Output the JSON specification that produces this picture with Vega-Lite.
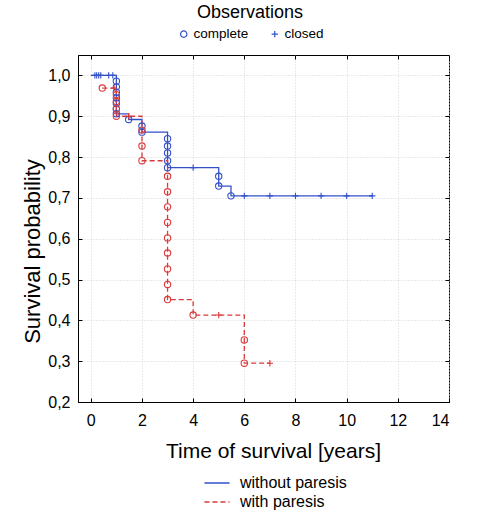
{
  "$schema": "https://vega.github.io/schema/vega-lite/v6.json",
  "autosize": "none",
  "width": 371,
  "height": 347,
  "padding": {"left": 78, "top": 55, "right": 48, "bottom": 110},
  "background": "white",
  "config": {
    "font": "Liberation Sans",
    "view": {"stroke": "black", "strokeWidth": 1},
    "axis": {
      "labelFont": "Liberation Sans", "titleFont": "Liberation Sans",
      "labelFontSize": 16, "titleFontSize": 21, "titleFontWeight": "normal",
      "labelColor": "black", "titleColor": "black",
      "domainColor": "black", "tickColor": "black",
      "gridColor": "#d4d4d4", "gridDash": [1, 2], "gridWidth": 1
    },
    "legend": {"labelFont": "Liberation Sans", "titleFont": "Liberation Sans", "labelColor": "black", "titleColor": "black"}
  },
  "datasets": {
    "curve": [
      {"group": "without paresis", "t": 0, "s": 1.0},
      {"group": "without paresis", "t": 1, "s": 0.906},
      {"group": "without paresis", "t": 1.48, "s": 0.892},
      {"group": "without paresis", "t": 2, "s": 0.861},
      {"group": "without paresis", "t": 3, "s": 0.774},
      {"group": "without paresis", "t": 5, "s": 0.729},
      {"group": "without paresis", "t": 5.48, "s": 0.705},
      {"group": "without paresis", "t": 11, "s": 0.705},
      {"group": "with paresis", "t": 0.45, "s": 0.969},
      {"group": "with paresis", "t": 1, "s": 0.90},
      {"group": "with paresis", "t": 2, "s": 0.791},
      {"group": "with paresis", "t": 3, "s": 0.451},
      {"group": "with paresis", "t": 4, "s": 0.413},
      {"group": "with paresis", "t": 6, "s": 0.295},
      {"group": "with paresis", "t": 7, "s": 0.295}
    ],
    "obs": [
      {"group": "without paresis", "kind": "closed", "t": 0.16, "s": 1.0},
      {"group": "without paresis", "kind": "closed", "t": 0.23, "s": 1.0},
      {"group": "without paresis", "kind": "closed", "t": 0.31, "s": 1.0},
      {"group": "without paresis", "kind": "closed", "t": 0.39, "s": 1.0},
      {"group": "without paresis", "kind": "closed", "t": 0.70, "s": 1.0},
      {"group": "without paresis", "kind": "closed", "t": 0.86, "s": 1.0},
      {"group": "without paresis", "kind": "complete", "t": 1, "s": 0.986},
      {"group": "without paresis", "kind": "complete", "t": 1, "s": 0.972},
      {"group": "without paresis", "kind": "complete", "t": 1, "s": 0.959},
      {"group": "without paresis", "kind": "complete", "t": 1, "s": 0.945},
      {"group": "without paresis", "kind": "complete", "t": 1, "s": 0.932},
      {"group": "without paresis", "kind": "complete", "t": 1, "s": 0.918},
      {"group": "without paresis", "kind": "complete", "t": 1, "s": 0.906},
      {"group": "without paresis", "kind": "complete", "t": 1.48, "s": 0.892},
      {"group": "without paresis", "kind": "complete", "t": 2, "s": 0.876},
      {"group": "without paresis", "kind": "complete", "t": 2, "s": 0.861},
      {"group": "without paresis", "kind": "complete", "t": 3, "s": 0.845},
      {"group": "without paresis", "kind": "complete", "t": 3, "s": 0.827},
      {"group": "without paresis", "kind": "complete", "t": 3, "s": 0.81},
      {"group": "without paresis", "kind": "complete", "t": 3, "s": 0.791},
      {"group": "without paresis", "kind": "complete", "t": 3, "s": 0.774},
      {"group": "without paresis", "kind": "closed", "t": 4, "s": 0.774},
      {"group": "without paresis", "kind": "complete", "t": 5, "s": 0.753},
      {"group": "without paresis", "kind": "complete", "t": 5, "s": 0.729},
      {"group": "without paresis", "kind": "complete", "t": 5.48, "s": 0.705},
      {"group": "without paresis", "kind": "closed", "t": 6, "s": 0.705},
      {"group": "without paresis", "kind": "closed", "t": 7, "s": 0.705},
      {"group": "without paresis", "kind": "closed", "t": 8, "s": 0.705},
      {"group": "without paresis", "kind": "closed", "t": 9, "s": 0.705},
      {"group": "without paresis", "kind": "closed", "t": 10, "s": 0.705},
      {"group": "without paresis", "kind": "closed", "t": 11, "s": 0.705},
      {"group": "with paresis", "kind": "complete", "t": 0.45, "s": 0.969},
      {"group": "with paresis", "kind": "closed", "t": 0.91, "s": 0.969},
      {"group": "with paresis", "kind": "complete", "t": 1, "s": 0.953},
      {"group": "with paresis", "kind": "complete", "t": 1, "s": 0.936},
      {"group": "with paresis", "kind": "complete", "t": 1, "s": 0.918},
      {"group": "with paresis", "kind": "complete", "t": 1, "s": 0.90},
      {"group": "with paresis", "kind": "closed", "t": 1.48, "s": 0.90},
      {"group": "with paresis", "kind": "complete", "t": 2, "s": 0.866},
      {"group": "with paresis", "kind": "complete", "t": 2, "s": 0.827},
      {"group": "with paresis", "kind": "complete", "t": 2, "s": 0.791},
      {"group": "with paresis", "kind": "complete", "t": 3, "s": 0.753},
      {"group": "with paresis", "kind": "complete", "t": 3, "s": 0.715},
      {"group": "with paresis", "kind": "complete", "t": 3, "s": 0.678},
      {"group": "with paresis", "kind": "complete", "t": 3, "s": 0.640},
      {"group": "with paresis", "kind": "complete", "t": 3, "s": 0.602},
      {"group": "with paresis", "kind": "complete", "t": 3, "s": 0.565},
      {"group": "with paresis", "kind": "complete", "t": 3, "s": 0.526},
      {"group": "with paresis", "kind": "complete", "t": 3, "s": 0.488},
      {"group": "with paresis", "kind": "complete", "t": 3, "s": 0.451},
      {"group": "with paresis", "kind": "complete", "t": 4, "s": 0.413},
      {"group": "with paresis", "kind": "closed", "t": 5, "s": 0.413},
      {"group": "with paresis", "kind": "complete", "t": 6, "s": 0.352},
      {"group": "with paresis", "kind": "complete", "t": 6, "s": 0.295},
      {"group": "with paresis", "kind": "closed", "t": 7, "s": 0.295}
    ]
  },
  "resolve": {"axis": {"x": "independent", "y": "independent"}},
  "layer": [
    {
      "data": {"name": "curve"},
      "mark": {"type": "line", "interpolate": "step-after", "strokeWidth": 1.3},
      "encoding": {
        "x": {"field": "t", "type": "quantitative",
          "scale": {"domain": [-0.5, 14], "nice": false, "zero": false},
          "axis": {"values": [0, 2, 4, 6, 8, 10, 12, 14], "title": "Time of survival [years]",
            "tickSize": -4, "labelPadding": 14, "titlePadding": 12, "titleX": 195, "grid": true}},
        "y": {"field": "s", "type": "quantitative",
          "scale": {"domain": [0.2, 1.05], "nice": false, "zero": false},
          "axis": {"values": [0.2, 0.3, 0.4, 0.5, 0.6, 0.7, 0.8, 0.9, 1.0], "title": "Survival probability",
            "labelExpr": "replace(format(datum.value, '.1f'), '.', ',')",
            "tickSize": -4, "labelPadding": 12, "titlePadding": 3, "titleFontSize": 22, "titleY": 196, "grid": true}},
        "color": {"field": "group", "type": "nominal",
          "scale": {"domain": ["without paresis", "with paresis"], "range": ["#3350c8", "#d93a3a"]},
          "legend": {"orient": "none", "legendX": 131, "legendY": 420, "title": null,
            "labelFontSize": 16, "symbolType": "M-3,0H3", "symbolSize": 70, "symbolStrokeWidth": 1.4, "labelOffset": 15, "rowPadding": 3}},
        "strokeDash": {"field": "group", "type": "nominal",
          "scale": {"domain": ["without paresis", "with paresis"], "range": [[1, 0], [5, 3]]},
          "legend": {"orient": "none", "legendX": 131, "legendY": 420, "title": null,
            "labelFontSize": 16, "symbolType": "M-3,0H3", "symbolSize": 70, "symbolStrokeWidth": 1.4, "labelOffset": 15, "rowPadding": 3}}
      }
    },
    {
      "data": {"name": "obs"},
      "mark": {"type": "point", "filled": false, "strokeWidth": 1.1, "size": 40, "opacity": 1},
      "encoding": {
        "x": {"field": "t", "type": "quantitative",
          "axis": {"orient": "top", "values": [0, 2, 4, 6, 8, 10, 12, 14], "labels": false, "title": null, "tickSize": -4, "grid": false, "domain": false}},
        "y": {"field": "s", "type": "quantitative",
          "axis": {"orient": "right", "values": [0.2, 0.3, 0.4, 0.5, 0.6, 0.7, 0.8, 0.9, 1.0], "labels": false, "title": null, "tickSize": -4, "grid": false, "domain": false}},
        "stroke": {"field": "group", "type": "nominal",
          "scale": {"domain": ["without paresis", "with paresis"], "range": ["#3350c8", "#d93a3a"]},
          "legend": null},
        "shape": {"field": "kind", "type": "nominal",
          "scale": {"domain": ["complete", "closed"], "range": ["circle", "M-1,0H1M0,-1V1"]},
          "legend": {"orient": "none", "legendX": 99, "legendY": -51, "direction": "horizontal",
            "title": "Observations", "titleAnchor": "middle", "titleFontSize": 18, "titleFontWeight": "normal",
            "titlePadding": 5, "labelFontSize": 13.5, "symbolSize": 40, "symbolStrokeColor": "#3350c8",
            "symbolFillColor": "transparent", "symbolStrokeWidth": 1.2, "labelOffset": 3, "columnPadding": 19}}
      }
    }
  ]
}
